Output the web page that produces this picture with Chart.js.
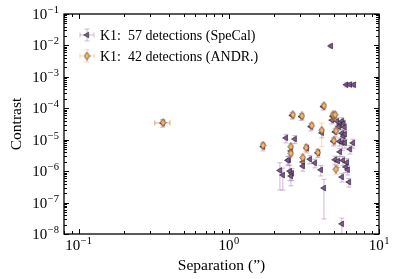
<!DOCTYPE html>
<html lang="en">
<head>
<meta charset="UTF-8" />
<title>Contrast vs separation</title>
<script src="https://cdn.jsdelivr.net/npm/chart.js"></script>
<style>
  html, body { margin: 0; padding: 0; background: #fff; }
  #wrap { width: 399px; height: 279px; position: relative; }
</style>
</head>
<body>
<div id="wrap"><canvas id="sepChart"></canvas></div>
<script>
// SpeCal detections (purple)
var speSep = [0.363, 1.69, 4.78, 6.05, 6.4, 6.8, 4.25, 2.64, 3.04, 4.92,
  4.86, 5.25, 5.66, 5.8, 5.5, 3.52, 4.16, 5.1, 5.66, 5.8,
  5.93, 2.40, 2.75, 4.98, 5.45, 5.7, 5.93, 6.71, 2.59, 3.31,
  6.41, 5.49, 3.92, 2.51, 3.47, 3.11, 3.74, 5.09, 5.33, 5.75,
  6.12, 3.11, 4.10, 6.0, 6.2, 2.19, 2.29, 2.55, 2.63, 2.59,
  5.66, 6.31, 4.30, 5.66, 5.4, 2.47, 5.9];
var speCon = [3.4e-5, 6.0e-6, 9.6e-3, 5.6e-4, 5.7e-4, 5.6e-4, 1.12e-4, 5.9e-5, 5.4e-5, 5.6e-5,
  4.2e-5, 3.9e-5, 3.9e-5, 3.3e-5, 3.0e-5, 2.6e-5, 1.65e-5, 1.75e-5, 1.6e-5, 1.3e-5,
  1.5e-5, 1.14e-5, 1.05e-5, 8.8e-6, 8.8e-6, 8.0e-6, 7.9e-6, 7.9e-6, 4.4e-6, 5.3e-6,
  5.0e-6, 4.1e-6, 3.8e-6, 2.3e-6, 2.4e-6, 1.95e-6, 1.82e-6, 2.3e-6, 2.1e-6, 2.2e-6,
  1.9e-6, 1.45e-6, 1.1e-6, 1.36e-6, 1.1e-6, 1.05e-6, 7.5e-7, 1.0e-6, 8.5e-7, 7.0e-7,
  6.5e-7, 4.5e-7, 2.9e-7, 2.1e-8, 2.6e-5, 2.2e-6, 2.5e-5];
var speConErr = [0.9e-5, 1.6e-6, 1.2e-3, 0.8e-4, 0.8e-4, 0.8e-4, 2.5e-5, 1.4e-5, 1.3e-5, 1.4e-5,
  1.0e-5, 1.0e-5, 1.1e-5, 0.9e-5, 0.8e-5, 0.7e-5, 0.5e-5, 0.5e-5, 0.5e-5, 0.4e-5,
  0.5e-5, 0.35e-5, 0.3e-5, 2.5e-6, 2.5e-6, 3.5e-6, 2.5e-6, 2.5e-6, 1.3e-6, 1.5e-6,
  1.5e-6, 1.2e-6, 1.1e-6, 0.7e-6, 0.7e-6, 0.6e-6, 0.55e-6, 0.7e-6, 0.8e-6, 0.7e-6,
  0.6e-6, 0.45e-6, 0.4e-6, 0.45e-6, 0.35e-6, 0.8e-6, 5e-7, 0.5e-6, 3.5e-7, 3.6e-7,
  2e-7, 1.4e-7, 2.6e-7, 1.1e-8, 0.7e-5, 0.7e-6, 0.7e-5];
var speSepErr = [0.042, 0.03, 0.03, 0.03, 0.03, 0.03, 0.03, 0.03, 0.03, 0.03,
  0.03, 0.03, 0.03, 0.03, 0.03, 0.03, 0.03, 0.03, 0.03, 0.03,
  0.03, 0.03, 0.03, 0.03, 0.03, 0.03, 0.03, 0.03, 0.03, 0.03,
  0.03, 0.03, 0.03, 0.03, 0.03, 0.03, 0.03, 0.03, 0.03, 0.03,
  0.03, 0.03, 0.03, 0.03, 0.03, 0.03, 0.03, 0.03, 0.03, 0.03,
  0.03, 0.03, 0.03, 0.03, 0.03, 0.03, 0.03];

// ANDROMEDA detections (orange)
var andSep = [0.365, 1.69, 4.30, 2.67, 3.07, 5.01, 4.95, 3.57, 4.16, 5.17,
  5.01, 2.59, 3.27, 2.59, 3.92, 3.11, 5.17, 5.1];
var andCon = [3.5e-5, 6.6e-6, 1.2e-4, 6.2e-5, 5.7e-5, 5.5e-5, 6.2e-5, 2.8e-5, 2.0e-5, 1.9e-5,
  9.3e-6, 6.0e-6, 5.6e-6, 3.7e-6, 3.9e-6, 2.7e-6, 1.15e-6, 6.2e-5];
var andConErr = [0.8e-5, 1.8e-6, 2.5e-5, 1.4e-5, 1.3e-5, 1.3e-5, 1.4e-5, 0.7e-5, 1.4e-5, 0.5e-5,
  2.5e-6, 1.6e-6, 1.5e-6, 1.0e-6, 1.1e-6, 0.8e-6, 0.35e-6, 1.4e-5];
var andSepErr = [0.042, 0.03, 0.03, 0.03, 0.03, 0.03, 0.03, 0.03, 0.03, 0.03,
  0.03, 0.03, 0.03, 0.03, 0.03, 0.03, 0.03, 0.03];

var xTickExps = [-1, 0, 1];
var yTickExps = [-8, -7, -6, -5, -4, -3, -2, -1];
var legendLabels = ["K1:  57 detections (SpeCal)", "K1:  42 detections (ANDR.)"];

var FONT = "'Liberation Serif', 'Times New Roman', serif";
var purpleFill = "#7e5690", purpleBar = "rgba(170,125,185,0.55)";
var orangeFill = "#f5b56e", orangeBar = "rgba(246,180,110,0.55)";

function toPts(xs, ys) {
  return xs.map(function (x, i) { return { x: x, y: ys[i] }; });
}

// thin diamond marker
function makeDiamond(fill) {
  var c = document.createElement("canvas");
  c.width = 7; c.height = 9;
  var g = c.getContext("2d");
  g.beginPath();
  g.moveTo(3.5, 0.6); g.lineTo(6.2, 4.5); g.lineTo(3.5, 8.4); g.lineTo(0.8, 4.5); g.closePath();
  g.fillStyle = fill; g.fill();
  g.lineWidth = 0.7; g.strokeStyle = "#3a2a20"; g.stroke();
  return c;
}
var diamondImg = makeDiamond(orangeFill);

function drawErr(ctx, xs, ys, sx, sy, ex, ey, color) {
  var cap = 2.5;
  ctx.strokeStyle = color;
  ctx.lineWidth = 1;
  var px = xs.getPixelForValue(sx), py = ys.getPixelForValue(sy);
  var yT = ys.getPixelForValue(sy + ey);
  var yB = ys.getPixelForValue(Math.max(sy - ey, 1e-12));
  var xL = xs.getPixelForValue(Math.max(sx - ex, 1e-6));
  var xR = xs.getPixelForValue(sx + ex);
  ctx.beginPath();
  ctx.moveTo(px, yT); ctx.lineTo(px, yB);
  ctx.moveTo(px - cap, yT); ctx.lineTo(px + cap, yT);
  ctx.moveTo(px - cap, yB); ctx.lineTo(px + cap, yB);
  ctx.moveTo(xL, py); ctx.lineTo(xR, py);
  ctx.moveTo(xL, py - cap); ctx.lineTo(xL, py + cap);
  ctx.moveTo(xR, py - cap); ctx.lineTo(xR, py + cap);
  ctx.stroke();
}

var errorBars = {
  id: "errorBars",
  beforeDatasetDraw: function (chart, args) {
    var ds = chart.data.datasets[args.index];
    var ctx = chart.ctx, a = chart.chartArea;
    var xs = chart.scales.x, ys = chart.scales.y;
    ctx.save();
    ctx.beginPath(); ctx.rect(a.left, a.top, a.right - a.left, a.bottom - a.top); ctx.clip();
    ds.data.forEach(function (p, i) {
      drawErr(ctx, xs, ys, p.x, p.y, ds.sepErr[i], ds.conErr[i], ds.barColor);
    });
    ctx.restore();
  }
};

function drawPow(ctx, exp, x, y, align) {
  var base = "10", sup = (exp < 0 ? "\u2212" : "") + Math.abs(exp);
  ctx.font = "15px " + FONT;
  var wb = ctx.measureText(base).width;
  ctx.font = "10.5px " + FONT;
  var ws = ctx.measureText(sup).width;
  var w = wb + ws + 0.5;
  var x0 = align === "right" ? x - w : x - w / 2;
  ctx.textAlign = "left";
  ctx.textBaseline = "alphabetic";
  ctx.font = "15px " + FONT;
  ctx.fillText(base, x0, y);
  ctx.font = "10.5px " + FONT;
  ctx.fillText(sup, x0 + wb + 0.5, y - 6);
}

var frame = {
  id: "frame",
  afterDraw: function (chart) {
    var ctx = chart.ctx, a = chart.chartArea;
    var xs = chart.scales.x, ys = chart.scales.y;
    ctx.save();
    ctx.strokeStyle = "#000";
    ctx.fillStyle = "#000";
    ctx.lineWidth = 1;
    // inward ticks on all four sides
    ctx.beginPath();
    for (var e = -2; e <= 1; e++) {
      for (var m = 1; m <= 9; m++) {
        var v = m * Math.pow(10, e);
        if (v < xs.min || v > xs.max) continue;
        var px = Math.round(xs.getPixelForValue(v)) + 0.5;
        var len = m === 1 ? 5 : 3;
        ctx.moveTo(px, a.bottom); ctx.lineTo(px, a.bottom - len);
        ctx.moveTo(px, a.top); ctx.lineTo(px, a.top + len);
      }
    }
    for (var e2 = -8; e2 <= -1; e2++) {
      for (var m2 = 1; m2 <= 9; m2++) {
        var v2 = m2 * Math.pow(10, e2);
        if (v2 < ys.min || v2 > ys.max) continue;
        var py = Math.round(ys.getPixelForValue(v2)) + 0.5;
        var len2 = m2 === 1 ? 5 : 3;
        ctx.moveTo(a.left, py); ctx.lineTo(a.left + len2, py);
        ctx.moveTo(a.right, py); ctx.lineTo(a.right - len2, py);
      }
    }
    ctx.stroke();
    ctx.lineWidth = 1.3;
    ctx.strokeRect(a.left, a.top, a.right - a.left, a.bottom - a.top);

    xTickExps.forEach(function (k) {
      drawPow(ctx, k, xs.getPixelForValue(Math.pow(10, k)), 250, "center");
    });
    yTickExps.forEach(function (k) {
      drawPow(ctx, k, 59, ys.getPixelForValue(Math.pow(10, k)) + 5, "right");
    });

    // axis titles
    ctx.font = "15.5px " + FONT;
    ctx.textAlign = "center";
    ctx.textBaseline = "middle";
    ctx.fillText("Separation (\u201D)", (a.left + a.right) / 2, 266);
    ctx.save();
    ctx.translate(17, (a.top + a.bottom) / 2);
    ctx.rotate(-Math.PI / 2);
    ctx.fillText("Contrast", 0, 0);
    ctx.restore();

    // legend
    var rows = [
      { y: 35, bar: purpleBar, kind: "tri" },
      { y: 56, bar: orangeBar, kind: "dia" }
    ];
    rows.forEach(function (r, i) {
      var cx = 87;
      ctx.strokeStyle = r.bar;
      ctx.lineWidth = 1;
      ctx.beginPath();
      ctx.moveTo(cx - 7, r.y); ctx.lineTo(cx + 7, r.y);
      ctx.moveTo(cx - 7, r.y - 2.5); ctx.lineTo(cx - 7, r.y + 2.5);
      ctx.moveTo(cx + 7, r.y - 2.5); ctx.lineTo(cx + 7, r.y + 2.5);
      ctx.moveTo(cx, r.y - 6); ctx.lineTo(cx, r.y + 6);
      ctx.moveTo(cx - 2.5, r.y - 6); ctx.lineTo(cx + 2.5, r.y - 6);
      ctx.moveTo(cx - 2.5, r.y + 6); ctx.lineTo(cx + 2.5, r.y + 6);
      ctx.stroke();
      if (r.kind === "tri") {
        ctx.beginPath();
        ctx.moveTo(cx - 3.3, r.y); ctx.lineTo(cx + 1.65, r.y - 2.86); ctx.lineTo(cx + 1.65, r.y + 2.86); ctx.closePath();
        ctx.fillStyle = purpleFill; ctx.fill();
        ctx.lineWidth = 0.6; ctx.strokeStyle = "#222"; ctx.stroke();
      } else {
        ctx.drawImage(diamondImg, cx - 3.5, r.y - 4.5);
      }
      ctx.fillStyle = "#000";
      ctx.font = "14px " + FONT;
      ctx.textAlign = "left";
      ctx.textBaseline = "middle";
      ctx.fillText(legendLabels[i], 100, r.y + 1);
    });
    ctx.restore();
  }
};

new Chart(document.getElementById("sepChart"), {
  type: "scatter",
  data: {
    datasets: [
      {
        label: legendLabels[0],
        data: toPts(speSep, speCon),
        order: 1,
        conErr: speConErr, sepErr: speSepErr, barColor: purpleBar,
        pointStyle: "triangle", pointRotation: -90, pointRadius: 3.3, pointHoverRadius: 3.3,
        backgroundColor: purpleFill, borderColor: "#222", borderWidth: 0.6
      },
      {
        label: legendLabels[1],
        data: toPts(andSep, andCon),
        order: 0,
        conErr: andConErr, sepErr: andSepErr, barColor: orangeBar,
        pointStyle: diamondImg, pointRadius: 3.5, pointHoverRadius: 3.5,
        backgroundColor: orangeFill, borderColor: "#3a2a20", borderWidth: 0.7
      }
    ]
  },
  options: {
    responsive: true,
    maintainAspectRatio: false,
    animation: false,
    layout: { padding: { top: 14, right: 20, left: 0, bottom: 0 } },
    plugins: { legend: { display: false }, tooltip: { enabled: false } },
    scales: {
      x: {
        type: "logarithmic", min: 0.08, max: 10,
        ticks: { display: false }, grid: { display: false }, border: { display: false },
        afterFit: function (s) { s.height = 45; }
      },
      y: {
        type: "logarithmic", min: 1e-8, max: 1e-1,
        ticks: { display: false }, grid: { display: false }, border: { display: false },
        afterFit: function (s) { s.width = 64; }
      }
    }
  },
  plugins: [errorBars, frame]
});
</script>
</body>
</html>
